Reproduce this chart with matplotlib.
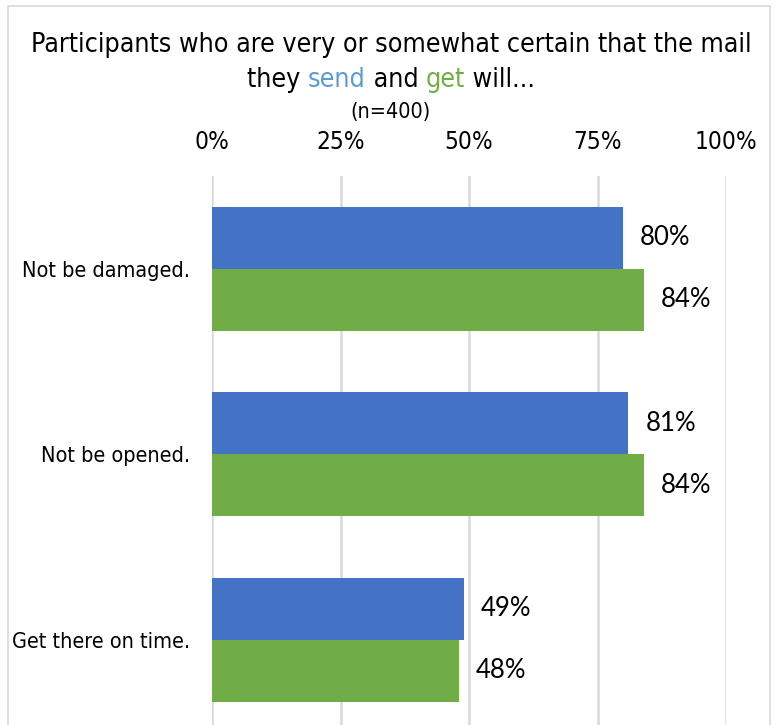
import matplotlib
matplotlib.use("Agg")
import matplotlib.pyplot as plt
from matplotlib import font_manager
from matplotlib.patches import Rectangle

categories = ["Not be damaged.", "Not be opened.", "Get there on time."]
send = [80, 81, 49]
get = [84, 84, 48]
ticks = [0, 25, 50, 75, 100]

BLUE = "#4472C4"
GREEN = "#70AD47"
SEND_TXT = "#5B9BD5"

names = {f.name for f in font_manager.fontManager.ttflist}
COND = "DejaVu Sans"
LABEL = "Lato" if "Lato" in names else "Open Sans"

fig = plt.figure(figsize=(7.76, 7.25), dpi=100)
# outer chart border (bottom edge falls outside the crop)
fig.patches.append(Rectangle((8 / 776, -0.1), 762 / 776, 1.1 - 6 / 725, transform=fig.transFigure,
                             fill=False, edgecolor="#D9D9D9", linewidth=1.2))

ax = fig.add_axes([212 / 776, 1 - 732.5 / 725, 514 / 776, 556.5 / 725])
h = 1 / 3
y = list(range(len(categories)))
ax.barh([i - h / 2 for i in y], send, height=h, color=BLUE)
ax.barh([i + h / 2 for i in y], get, height=h, color=GREEN)

for i in y:
    ax.text(send[i] + 3.3, i - h / 2, f"{send[i]}%", va="center", ha="left",
            fontsize=18.5, family=LABEL, fontstretch="normal")
    ax.text(get[i] + 3.3, i + h / 2, f"{get[i]}%", va="center", ha="left",
            fontsize=18.5, family=LABEL, fontstretch="normal")

ax.set_xlim(0, 100)
ax.set_ylim(len(categories) - 0.5, -0.5)
ax.set_xticks(ticks)
ax.set_xticklabels([f"{t}%" for t in ticks], fontsize=17.5, family=COND, fontstretch="condensed")
ax.xaxis.tick_top()
ax.tick_params(axis="x", length=0, pad=16)
ax.set_yticks(y)
ax.set_yticklabels(categories, fontsize=15.5, family=COND, fontstretch="condensed")
ax.tick_params(axis="y", length=0, pad=16)
ax.grid(axis="x", color="#D9D9D9", linewidth=1.8)
ax.set_axisbelow(True)
for s in ax.spines.values():
    s.set_visible(False)

# title
cx = 391 / 776
t1 = fig.text(cx, 1 - 45 / 725, "Participants who are very or somewhat certain that the mail",
              ha="center", va="center", fontsize=19.2, family=COND, fontstretch="condensed")
parts = [("they ", "black"), ("send", SEND_TXT), (" and ", "black"), ("get", GREEN), (" will...", "black")]
texts = []
for s, c in parts:
    texts.append(fig.text(0, 1 - 80 / 725, s, ha="left", va="center", fontsize=19.2,
                          family=COND, fontstretch="condensed", color=c))
fig.canvas.draw()
r = fig.canvas.get_renderer()
widths = [t.get_window_extent(r).width for t in texts]
x0 = cx * 776 - sum(widths) / 2
for t, w in zip(texts, widths):
    t.set_x(x0 / 776)
    x0 += w
fig.text(cx, 1 - 112 / 725, "(n=400)", ha="center", va="center", fontsize=15.5, family=COND,
         fontstretch="condensed")

fig.savefig("out.png", dpi=100)
